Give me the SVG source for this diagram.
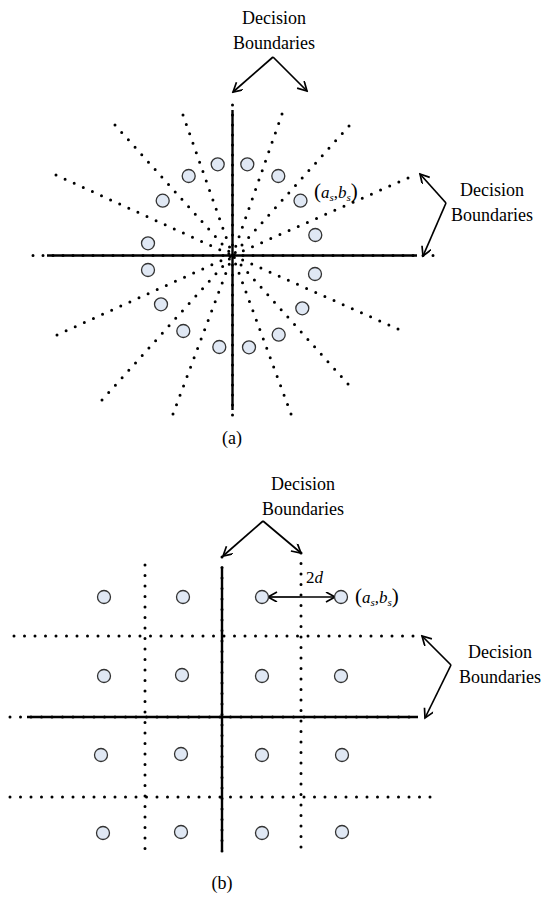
<svg xmlns="http://www.w3.org/2000/svg" width="547" height="917" viewBox="0 0 547 917">
<defs>
<marker id="ah" markerWidth="12" markerHeight="12" refX="10" refY="5" orient="auto" markerUnits="userSpaceOnUse">
<path d="M1,0 L10,5 L1,10" fill="none" stroke="#000" stroke-width="1.7"/>
</marker>
<style>
.dot{fill:none;stroke:#000;stroke-width:3;stroke-linecap:round;stroke-dasharray:0 10}
.dotb{fill:none;stroke:#000;stroke-width:3;stroke-linecap:round;stroke-dasharray:0 10.5}
.solid{fill:none;stroke:#000;stroke-width:2.4}
.arr{fill:none;stroke:#000;stroke-width:1.7;marker-end:url(#ah)}
.pt{fill:#e0e8f4;stroke:#333;stroke-width:1.3}
.lbl{font-family:"Liberation Serif","Times New Roman",serif;font-size:18px;fill:#000;text-anchor:middle}
.math{font-family:"Liberation Serif","Times New Roman",serif;fill:#000}
</style>
</defs>
<rect width="547" height="917" fill="#fff"/>

<g id="connectors">
<path class="dot" d="M56,175 L232.5,255.5"/>
<path class="dot" d="M115,125 L232.5,255.5"/>
<path class="dot" d="M183,115 L232.5,255.5"/>
<path class="dot" d="M282,114 L232.5,255.5"/>
<path class="dot" d="M349,126 L232.5,255.5"/>
<path class="dot" d="M408,178 L232.5,255.5"/>
<path class="dot" d="M57,335 L232.5,255.5"/>
<path class="dot" d="M102,400 L232.5,255.5"/>
<path class="dot" d="M173,414 L232.5,255.5"/>
<path class="dot" d="M398,329 L232.5,255.5"/>
<path class="dot" d="M348,384 L232.5,255.5"/>
<path class="dot" d="M291,414 L232.5,255.5"/>
<path class="solid" d="M232.5,110 L232.5,410"/>
<path class="dot" d="M232.5,105 L232.5,418"/>
<path class="solid" d="M47,255.5 L417,255.5"/>
<path class="dot" d="M33,255.5 L443,255.5"/>

<path class="dotb" d="M145,565 L145,857"/>
<path class="dotb" d="M301,553 L301,857"/>
<path class="solid" d="M222,567 L222,850"/>
<path class="dotb" d="M222,557 L222,857"/>
<path class="dotb" d="M14,636 L420,636"/>
<path class="dotb" d="M10,797 L431,797"/>
<path class="solid" d="M27,717 L418,717"/>
<path class="dotb" d="M10,717 L418,717"/>

<path class="arr" d="M273,57 L233,92"/>
<path class="arr" d="M273,57 L307,91"/>
<path class="arr" d="M446,203 L420,174"/>
<path class="arr" d="M446,203 L423,256"/>
<path class="arr" d="M263,521 L223,556"/>
<path class="arr" d="M263,521 L301,553"/>
<path class="arr" d="M451,665 L422,636"/>
<path class="arr" d="M451,665 L425,718"/>
<path class="arr" d="M300,597 L268,597"/>
<path class="arr" d="M300,597 L335,597"/>
</g>

<g id="points-a">
<circle class="pt" cx="217.7" cy="164.3" r="6.5"/>
<circle class="pt" cx="247.3" cy="164.3" r="6.5"/>
<circle class="pt" cx="188.7" cy="176" r="6.5"/>
<circle class="pt" cx="278.3" cy="176" r="6.5"/>
<circle class="pt" cx="162.7" cy="200.7" r="6.5"/>
<circle class="pt" cx="300.5" cy="200.7" r="6.5"/>
<circle class="pt" cx="148" cy="243.3" r="6.5"/>
<circle class="pt" cx="315.3" cy="235" r="6.5"/>
<circle class="pt" cx="148" cy="270" r="6.5"/>
<circle class="pt" cx="315" cy="274" r="6.5"/>
<circle class="pt" cx="161" cy="304.3" r="6.5"/>
<circle class="pt" cx="302.3" cy="308.3" r="6.5"/>
<circle class="pt" cx="183.3" cy="331" r="6.5"/>
<circle class="pt" cx="278.7" cy="334.7" r="6.5"/>
<circle class="pt" cx="219.3" cy="347" r="6.5"/>
<circle class="pt" cx="249" cy="347.3" r="6.5"/>
</g>

<g id="points-b">
<circle class="pt" cx="104" cy="597" r="6.5"/>
<circle class="pt" cx="183" cy="597" r="6.5"/>
<circle class="pt" cx="262" cy="597" r="6.5"/>
<circle class="pt" cx="341" cy="597" r="6.5"/>
<circle class="pt" cx="104" cy="676" r="6.5"/>
<circle class="pt" cx="182" cy="675" r="6.5"/>
<circle class="pt" cx="262" cy="676" r="6.5"/>
<circle class="pt" cx="341" cy="676" r="6.5"/>
<circle class="pt" cx="101" cy="755" r="6.5"/>
<circle class="pt" cx="181" cy="754" r="6.5"/>
<circle class="pt" cx="262" cy="755" r="6.5"/>
<circle class="pt" cx="342" cy="755" r="6.5"/>
<circle class="pt" cx="103" cy="833" r="6.5"/>
<circle class="pt" cx="181" cy="832" r="6.5"/>
<circle class="pt" cx="262" cy="833" r="6.5"/>
<circle class="pt" cx="342" cy="832" r="6.5"/>
</g>

<g id="label-top-a">
<text class="lbl" x="274" y="24">Decision</text>
<text class="lbl" x="274" y="49">Boundaries</text>
</g>
<g id="label-right-a">
<text class="lbl" x="492" y="196">Decision</text>
<text class="lbl" x="492" y="221">Boundaries</text>
</g>
<g id="label-top-b">
<text class="lbl" x="303" y="490">Decision</text>
<text class="lbl" x="303" y="515">Boundaries</text>
</g>
<g id="label-right-b">
<text class="lbl" x="500" y="658">Decision</text>
<text class="lbl" x="500" y="683">Boundaries</text>
</g>

<g id="as-bs-a">
<text class="math" x="314" y="198" font-size="17"><tspan font-size="21">(</tspan><tspan font-style="italic">a</tspan><tspan font-style="italic" font-size="11" dy="3">s</tspan><tspan dy="-3">,</tspan><tspan font-style="italic">b</tspan><tspan font-style="italic" font-size="11" dy="3">s</tspan><tspan font-size="21" dy="-3">)</tspan></text>
</g>
<g id="as-bs-b">
<text class="math" x="355" y="603" font-size="17"><tspan font-size="21">(</tspan><tspan font-style="italic">a</tspan><tspan font-style="italic" font-size="11" dy="3">s</tspan><tspan dy="-3">,</tspan><tspan font-style="italic">b</tspan><tspan font-style="italic" font-size="11" dy="3">s</tspan><tspan font-size="21" dy="-3">)</tspan></text>
</g>
<g id="label-2d">
<text class="math" x="306" y="583" font-size="17">2<tspan font-style="italic">d</tspan></text>
</g>

<g id="captions">
<text class="lbl" x="232" y="444">(a)</text>
<text class="lbl" x="222" y="889">(b)</text>
</g>
</svg>
